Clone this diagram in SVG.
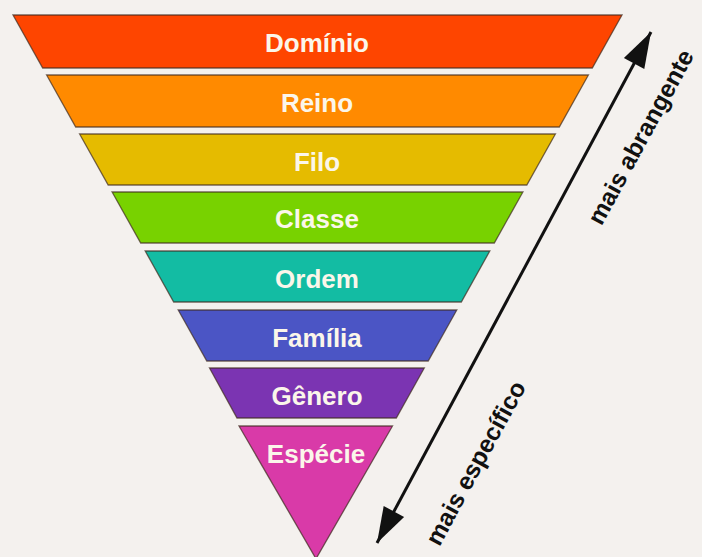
<svg xmlns="http://www.w3.org/2000/svg" width="702" height="557" viewBox="0 0 702 557">
  <style>
    .band { stroke: #3d2a1c; stroke-width: 1.3; stroke-opacity: 0.7; stroke-linejoin: miter; }
    .lbl { font-family: "Liberation Sans", Arial, sans-serif; font-weight: bold; font-size: 26px; fill: #fbf6ea; text-anchor: middle; }
    .side { font-family: "Liberation Sans", Arial, sans-serif; font-weight: bold; font-size: 24.5px; fill: #111111; text-anchor: middle; }
    .arrow { stroke: #111111; stroke-width: 3; fill: none; }
  </style>
  <defs>
    <marker id="head" markerUnits="userSpaceOnUse" markerWidth="40" markerHeight="30" viewBox="-36 -13 38 26" refX="0" refY="0" orient="auto-start-reverse">
      <path d="M0,0 L-34,-11 L-34,11 Z" fill="#111111"/>
    </marker>
  </defs>
  <rect x="0" y="0" width="702" height="557" fill="#f4f1ee"/>

  <g id="dominio">
    <polygon class="band" points="13,15 622,15 592.3,68 42.7,68" fill="#fe4500"/>
    <text class="lbl" x="317" y="52">Domínio</text>
  </g>
  <g id="reino">
    <polygon class="band" points="46.6,75 588.4,75 559.3,127 75.7,127" fill="#ff8a00"/>
    <text class="lbl" x="317" y="112">Reino</text>
  </g>
  <g id="filo">
    <polygon class="band" points="79.6,134 555.4,134 526.8,185 108.2,185" fill="#e5bb00"/>
    <text class="lbl" x="317" y="171">Filo</text>
  </g>
  <g id="classe">
    <polygon class="band" points="112.1,192 522.9,192 494.3,243 140.7,243" fill="#78d200"/>
    <text class="lbl" x="317" y="228">Classe</text>
  </g>
  <g id="ordem">
    <polygon class="band" points="145.2,251 489.8,251 461.3,302 173.7,302" fill="#13bca3"/>
    <text class="lbl" x="317" y="288">Ordem</text>
  </g>
  <g id="familia">
    <polygon class="band" points="178.2,310 456.8,310 428.2,361 206.8,361" fill="#4b55c5"/>
    <text class="lbl" x="317" y="347">Família</text>
  </g>
  <g id="genero">
    <polygon class="band" points="209.5,368 424.3,368 396.3,418 237,418" fill="#7b34b2"/>
    <text class="lbl" x="317" y="405">Gênero</text>
  </g>
  <g id="especie">
    <polygon class="band" points="239,426 392.5,426 316,558.8" fill="#d93aa8"/>
    <text class="lbl" x="316" y="463">Espécie</text>
  </g>

  <g id="connectors">
    <line class="arrow" x1="377" y1="543" x2="651" y2="32" marker-start="url(#head)" marker-end="url(#head)"/>
  </g>

  <g id="label-abrangente">
    <text class="side" transform="translate(648,141) rotate(-61.5)" x="0" y="0">mais abrangente</text>
  </g>
  <g id="label-especifico">
    <text class="side" transform="translate(483,467) rotate(-61.5)" x="0" y="0">mais específico</text>
  </g>
</svg>
